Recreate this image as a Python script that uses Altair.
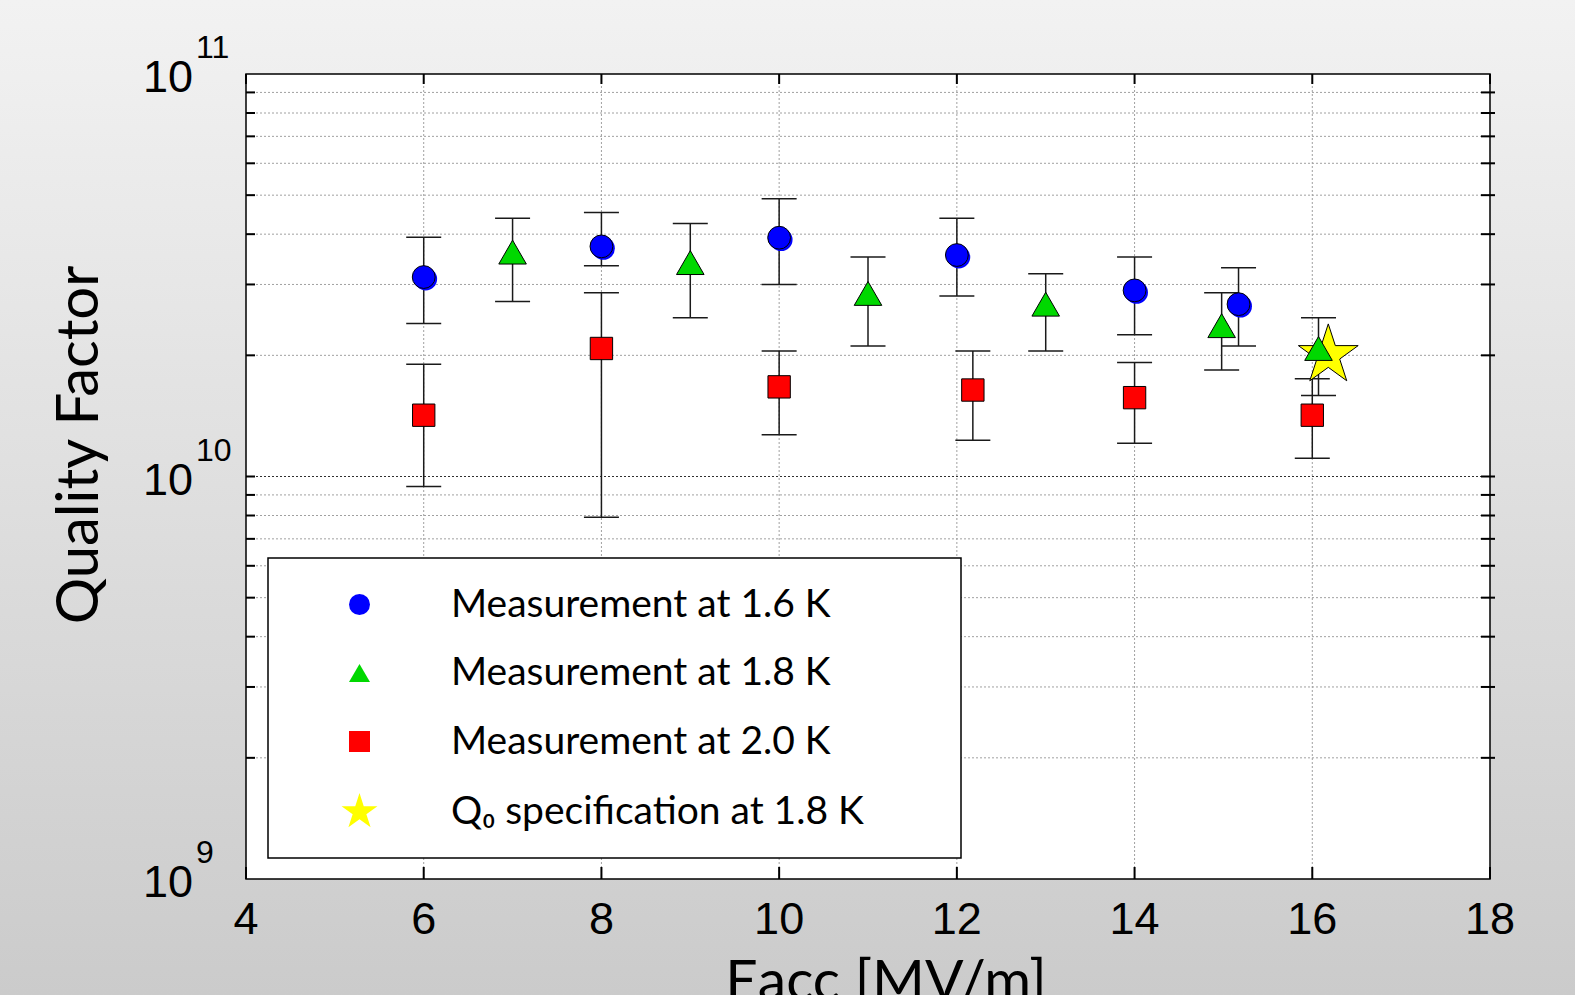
import altair as alt
import pandas as pd

# ---------------- data ----------------
SERIES = [
    "Q\u2080 specification at 1.8 K",
    "Measurement at 1.6 K",
    "Measurement at 1.8 K",
    "Measurement at 2.0 K",
]
LEGEND_ORDER = [SERIES[1], SERIES[2], SERIES[3], SERIES[0]]

x_spec = [16.18]
q_spec = [2.0e10]

x16 = [6, 8, 10, 12, 14, 15.17]
q16 = [3.13e10, 3.73e10, 3.92e10, 3.55e10, 2.90e10, 2.68e10]
lo16 = [2.40e10, 3.34e10, 3.00e10, 2.81e10, 2.25e10, 2.11e10]
hi16 = [3.93e10, 4.53e10, 4.90e10, 4.38e10, 3.51e10, 3.30e10]

x18 = [7, 9, 11, 13, 14.98, 16.07]
q18 = [3.61e10, 3.40e10, 2.85e10, 2.68e10, 2.37e10, 2.08e10]
lo18 = [2.72e10, 2.48e10, 2.11e10, 2.05e10, 1.84e10, 1.59e10]
hi18 = [4.38e10, 4.25e10, 3.51e10, 3.19e10, 2.86e10, 2.48e10]

x20 = [6, 8, 10, 12.18, 14, 16]
q20 = [1.42e10, 2.08e10, 1.67e10, 1.64e10, 1.57e10, 1.42e10]
lo20 = [9.44e9, 7.92e9, 1.27e10, 1.23e10, 1.21e10, 1.11e10]
hi20 = [1.90e10, 2.86e10, 2.05e10, 2.05e10, 1.92e10, 1.75e10]

x_ticks = [4, 6, 8, 10, 12, 14, 16, 18]
x_tick_labels = ["4", "6", "8", "10", "12", "14", "16", "18"]
y_ticks = [1e9, 1e10, 1e11]
y_base = ["10", "10", "10"]
y_exps = ["9", "10", "11"]
x_grid = [6, 8, 10, 12, 14, 16]
y_grid_minor = [2e9, 3e9, 4e9, 5e9, 6e9, 7e9, 8e9, 9e9,
                2e10, 3e10, 4e10, 5e10, 6e10, 7e10, 8e10, 9e10]
y_grid_major = [1e10]
x_title = "Eacc [MV/m]"
y_title = "Quality Factor"

# marker area (px^2) per series -- styling
MARKER_SIZE = {SERIES[0]: 1220, SERIES[1]: 520, SERIES[2]: 760, SERIES[3]: 500}

# ---------------- tables ----------------
rows = []
for x, q in zip(x_spec, q_spec):
    rows.append({"series": SERIES[0], "eacc": x, "q": q})
err_rows = []
for name, xs, qs, los, his in [
    (SERIES[1], x16, q16, lo16, hi16),
    (SERIES[2], x18, q18, lo18, hi18),
    (SERIES[3], x20, q20, lo20, hi20),
]:
    for x, q, lo, hi in zip(xs, qs, los, his):
        rows.append({"series": name, "eacc": x, "q": q})
        err_rows.append({"series": name, "eacc": x, "lo": lo, "hi": hi})
pts = pd.DataFrame(rows)
pts["idx"] = range(len(pts))
pts["sz"] = pts["series"].map(MARKER_SIZE)
errs = pd.DataFrame(err_rows)
blue = pd.DataFrame({"eacc": x16, "q": q16})

W, H = 1244, 805
LEFT, TOP = 246, 74
CANVAS_W, CANVAS_H = 1575, 995

xscale = alt.Scale(domain=[4, 18], nice=False, zero=False)
yscale = alt.Scale(type="log", domain=[1e9, 1e11], nice=False)

k = 1.8
STAR = ("M0,{a} L{b},{c} L{d},{c} L{e},{f} L{g},{h} L0,{i} L-{g},{h} "
        "L-{e},{f} L-{d},{c} L-{b},{c} Z").format(
    a=round(-1 * k, 4), b=round(0.2245 * k, 4), c=round(-0.309 * k, 4),
    d=round(0.951 * k, 4), e=round(0.3633 * k, 4), f=round(0.118 * k, 4),
    g=round(0.588 * k, 4), h=round(0.809 * k, 4), i=round(0.382 * k, 4))

shape_scale = alt.Scale(domain=LEGEND_ORDER,
                        range=["circle", "triangle-up", "square", STAR])
fill_scale = alt.Scale(domain=LEGEND_ORDER,
                       range=["#0000ff", "#00d800", "#ff0000", "#ffff00"])

one = alt.Data(values=[{"k": 1}])

# background gradient covering the whole canvas
bg = alt.Chart(one).mark_rect(
    fill={"gradient": "linear", "x1": 0, "y1": 0, "x2": 0, "y2": 1,
          "stops": [{"offset": 0, "color": "#f2f2f2"},
                    {"offset": 1, "color": "#cbcbcb"}]},
    strokeWidth=0,
).encode(x=alt.value(-LEFT), x2=alt.value(CANVAS_W - LEFT),
         y=alt.value(-TOP), y2=alt.value(CANVAS_H - TOP))

plot_bg = alt.Chart(one).mark_rect(fill="white", strokeWidth=0).encode(
    x=alt.value(0), x2=alt.value(W), y=alt.value(0), y2=alt.value(H))

hgrid_minor = alt.Chart(pd.DataFrame({"v": y_grid_minor})).mark_rule(
    color="#a0a0a0", strokeWidth=1, strokeDash=[2, 2]
).encode(y=alt.Y("v:Q", scale=yscale, axis=None))

hgrid_major = alt.Chart(pd.DataFrame({"v": y_grid_major})).mark_rule(
    color="#303030", strokeWidth=1, strokeDash=[2, 2]
).encode(y=alt.Y("v:Q", scale=yscale, axis=None))

vgrid = alt.Chart(pd.DataFrame({"v": x_grid})).mark_rule(
    color="#a0a0a0", strokeWidth=1, strokeDash=[2, 2]
).encode(x=alt.X("v:Q", scale=xscale, axis=None))

border = alt.Chart(one).mark_rect(
    fill="white", fillOpacity=0, stroke="black", strokeWidth=1.5
).encode(x=alt.value(0), x2=alt.value(W), y=alt.value(0), y2=alt.value(H))

# small inward ticks on all four sides
ytick_df = pd.DataFrame({"v": y_grid_minor + y_grid_major})
lt = alt.Chart(ytick_df).mark_rule(color="black", strokeWidth=2).encode(
    y=alt.Y("v:Q", scale=yscale, axis=None), x=alt.value(0), x2=alt.value(9))
rt = alt.Chart(ytick_df).mark_rule(color="black", strokeWidth=2).encode(
    y=alt.Y("v:Q", scale=yscale, axis=None), x=alt.value(W - 9), x2=alt.value(W + 5))
xtick_df = pd.DataFrame({"v": x_ticks})
bt = alt.Chart(xtick_df).mark_rule(color="black", strokeWidth=2).encode(
    x=alt.X("v:Q", scale=xscale, axis=None), y=alt.value(H - 12), y2=alt.value(H))
tt = alt.Chart(xtick_df).mark_rule(color="black", strokeWidth=2).encode(
    x=alt.X("v:Q", scale=xscale, axis=None), y=alt.value(0), y2=alt.value(10))

# error bars
ebar = alt.Chart(errs).mark_rule(color="#1a1a1a", strokeWidth=1.5).encode(
    x=alt.X("eacc:Q", scale=xscale, axis=None),
    y=alt.Y("lo:Q", scale=yscale, axis=None),
    y2="hi:Q",
)
cap_lo = alt.Chart(errs).mark_rule(
    color="#1a1a1a", strokeWidth=1.5, xOffset=-17.5, x2Offset=17.5
).encode(
    x=alt.X("eacc:Q", scale=xscale, axis=None), x2="eacc:Q",
    y=alt.Y("lo:Q", scale=yscale, axis=None),
)
cap_hi = alt.Chart(errs).mark_rule(
    color="#1a1a1a", strokeWidth=1.5, xOffset=-17.5, x2Offset=17.5
).encode(
    x=alt.X("eacc:Q", scale=xscale, axis=None), x2="eacc:Q",
    y=alt.Y("hi:Q", scale=yscale, axis=None),
)

# blue halo behind the 1.6 K circles
halo = alt.Chart(blue).mark_point(
    filled=True, opacity=1, color="#0000ff", shape="circle", size=520,
    xOffset=2, yOffset=2
).encode(
    x=alt.X("eacc:Q", scale=xscale, axis=None),
    y=alt.Y("q:Q", scale=yscale, axis=None),
)

# legend frame
legend_box = alt.Chart(one).mark_rect(
    fill="white", stroke="black", strokeWidth=1.5
).encode(x=alt.value(22), x2=alt.value(715), y=alt.value(484), y2=alt.value(784))

points = alt.Chart(pts).mark_point(
    filled=True, opacity=1, stroke="black", strokeWidth=1
).encode(
    x=alt.X("eacc:Q", scale=xscale, axis=None),
    y=alt.Y("q:Q", scale=yscale, axis=None),
    fill=alt.Fill("series:N", scale=fill_scale, title=None),
    shape=alt.Shape("series:N", scale=shape_scale, title=None),
    size=alt.Size("sz:Q", scale=None),
    order=alt.Order("idx:Q"),
)

# tick labels and titles
xlab = alt.Chart(pd.DataFrame({"v": x_ticks, "t": x_tick_labels})).mark_text(
    align="center", baseline="top", font="Liberation Sans", fontSize=45,
    color="black"
).encode(x=alt.X("v:Q", scale=xscale, axis=None), y=alt.value(H + 19),
         text="t:N")

ybase = alt.Chart(pd.DataFrame({"v": y_ticks, "t": y_base})).mark_text(
    align="right", baseline="middle", font="Liberation Sans", fontSize=45,
    color="black", dy=4
).encode(x=alt.value(-53), y=alt.Y("v:Q", scale=yscale, axis=None),
         text="t:N")

exps = alt.Chart(pd.DataFrame({"v": y_ticks, "e": y_exps})).mark_text(
    align="left", baseline="alphabetic", font="Liberation Sans",
    fontSize=32, color="black", dy=-16
).encode(x=alt.value(-50), y=alt.Y("v:Q", scale=yscale, axis=None),
         text="e:N")

xtitle = alt.Chart(pd.DataFrame({"t": [x_title]})).mark_text(
    align="center", baseline="alphabetic", font="Lato", fontSize=57,
    color="black"
).encode(x=alt.value(640), y=alt.value(H + 121), text="t:N")

ytitle = alt.Chart(pd.DataFrame({"t": [y_title]})).mark_text(
    align="center", baseline="middle", font="Lato", fontSize=58,
    color="black", angle=270
).encode(x=alt.value(-165), y=alt.value(371), text="t:N")

chart = alt.layer(
    bg, plot_bg, hgrid_minor, vgrid, hgrid_major, border, lt, rt, bt, tt,
    ebar, cap_lo, cap_hi, halo, points, legend_box,
    xlab, ybase, exps, xtitle, ytitle
).properties(
    width=W, height=H,
    autosize=alt.AutoSizeParams(type="none"),
    padding={"left": LEFT, "top": TOP,
             "right": CANVAS_W - LEFT - W, "bottom": CANVAS_H - TOP - H},
).configure_view(stroke=None).configure(background="#e4e4e4").configure_legend(
    orient="none", legendX=21, legendY=493, padding=18,
    symbolOffset=55, labelOffset=72, rowPadding=28.5,
    symbolSize=440,
    labelFont="Lato", labelFontSize=39, labelColor="black",
    labelLimit=800,
    symbolStrokeColor="black", symbolStrokeWidth=1, symbolType="circle",
    strokeColor="transparent", fillColor="transparent", zindex=1,
)

chart.save("out.html", embed_options={"renderer": "svg", "actions": False})
